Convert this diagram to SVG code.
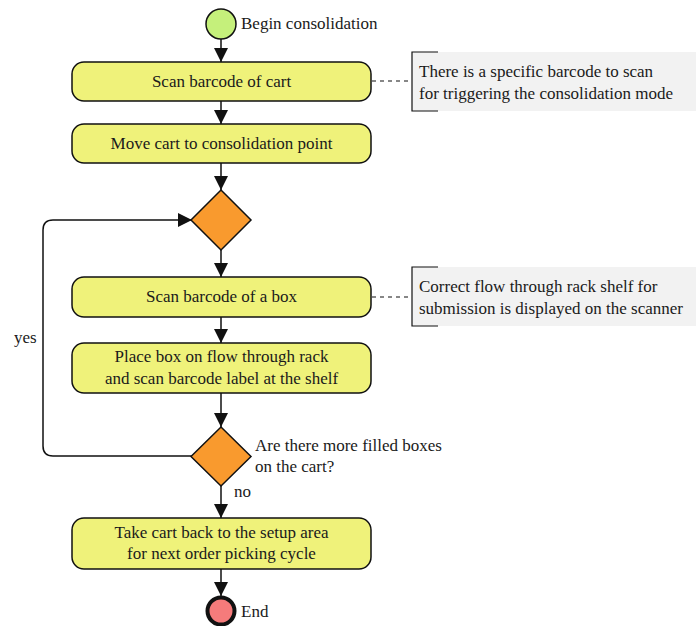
<svg xmlns="http://www.w3.org/2000/svg" width="696" height="626" viewBox="0 0 696 626" font-family="Liberation Serif, Times New Roman, serif" font-size="17">
  <style>
    .t { font-family: "Liberation Serif", "Times New Roman", Times, serif; font-size: 17px; fill: #1a1a1a; }
    .act { fill: #eff27a; stroke: #111; stroke-width: 1.5; }
    .dec { fill: #f99a2e; stroke: #111; stroke-width: 1.5; }
    .edge { fill: none; stroke: #111; stroke-width: 1.5; }
    .dash { fill: none; stroke: #111; stroke-width: 1.2; stroke-dasharray: 4 4; }
    .notebg { fill: #f2f2f2; stroke: none; }
    .bracket { fill: none; stroke: #111; stroke-width: 1.2; }
    .c { text-anchor: middle; }
  </style>
  <defs>
    <marker id="arrow" viewBox="0 0 14 14" refX="14" refY="7" markerWidth="14" markerHeight="14" markerUnits="userSpaceOnUse" orient="auto">
      <path d="M0,0 L14,7 L0,14 Z" fill="#111"/>
    </marker>
  </defs>

  <!-- connectors -->
  <g id="connectors">
    <line class="edge" x1="221" y1="39" x2="221" y2="62" marker-end="url(#arrow)"/>
    <line class="edge" x1="221" y1="101" x2="221" y2="124" marker-end="url(#arrow)"/>
    <line class="edge" x1="221" y1="163" x2="221" y2="190" marker-end="url(#arrow)"/>
    <line class="edge" x1="221" y1="250" x2="221" y2="277" marker-end="url(#arrow)"/>
    <line class="edge" x1="221" y1="317" x2="221" y2="343" marker-end="url(#arrow)"/>
    <line class="edge" x1="221" y1="393" x2="221" y2="427" marker-end="url(#arrow)"/>
    <line class="edge" x1="221" y1="486" x2="221" y2="518" marker-end="url(#arrow)"/>
    <line class="edge" x1="221" y1="569" x2="221" y2="596" marker-end="url(#arrow)"/>
    <path class="edge" d="M192,456 L53,456 Q43,456 43,446 L43,230 Q43,220 53,220 L192,220" marker-end="url(#arrow)"/>
    <text class="t" x="14" y="343">yes</text>
    <text class="t" x="234" y="497">no</text>
    <line class="dash" x1="372" y1="81" x2="412" y2="81"/>
    <line class="dash" x1="372" y1="297" x2="412" y2="297"/>
  </g>

  <g id="start">
    <circle cx="221" cy="24" r="15" fill="#c5f07b" stroke="#111" stroke-width="1.5"/>
    <text class="t" x="241" y="29">Begin consolidation</text>
  </g>

  <g id="scan-cart">
    <rect class="act" x="72" y="62" width="299" height="39" rx="12"/>
    <text class="t c" x="221.5" y="87">Scan barcode of cart</text>
  </g>

  <g id="note-cart">
    <rect class="notebg" x="412" y="52" width="284" height="59"/>
    <path class="bracket" d="M438,52 L412,52 L412,111 L438,111"/>
    <text class="t" x="419" y="77">There is a specific barcode to scan</text>
    <text class="t" x="419" y="99">for triggering the consolidation mode</text>
  </g>

  <g id="move-cart">
    <rect class="act" x="72" y="124" width="299" height="39" rx="12"/>
    <text class="t c" x="221.5" y="149">Move cart to consolidation point</text>
  </g>

  <g id="merge">
    <polygon class="dec" points="221,190 251,220 221,250 191,220"/>
  </g>

  <g id="scan-box">
    <rect class="act" x="72" y="277" width="299" height="40" rx="12"/>
    <text class="t c" x="221.5" y="302">Scan barcode of a box</text>
  </g>

  <g id="note-box">
    <rect class="notebg" x="412" y="267" width="284" height="59"/>
    <path class="bracket" d="M438,267 L412,267 L412,326 L438,326"/>
    <text class="t" x="419" y="292">Correct flow through rack shelf for</text>
    <text class="t" x="419" y="314">submission is displayed on the scanner</text>
  </g>

  <g id="place-box">
    <rect class="act" x="72" y="343" width="299" height="50" rx="12"/>
    <text class="t c" x="221.5" y="362">Place box on flow through rack</text>
    <text class="t c" x="221.5" y="384">and scan barcode label at the shelf</text>
  </g>

  <g id="more-boxes">
    <polygon class="dec" points="221,427 251,456.5 221,486 191,456.5"/>
    <text class="t" x="255" y="451">Are there more filled boxes</text>
    <text class="t" x="255" y="472">on the cart?</text>
  </g>

  <g id="return-cart">
    <rect class="act" x="72" y="518" width="299" height="51" rx="12"/>
    <text class="t c" x="221.5" y="538">Take cart back to the setup area</text>
    <text class="t c" x="221.5" y="559">for next order picking cycle</text>
  </g>

  <g id="end">
    <circle cx="221" cy="611" r="13.5" fill="#f57b7b" stroke="#111" stroke-width="4"/>
    <text class="t" x="241" y="617">End</text>
  </g>
</svg>
